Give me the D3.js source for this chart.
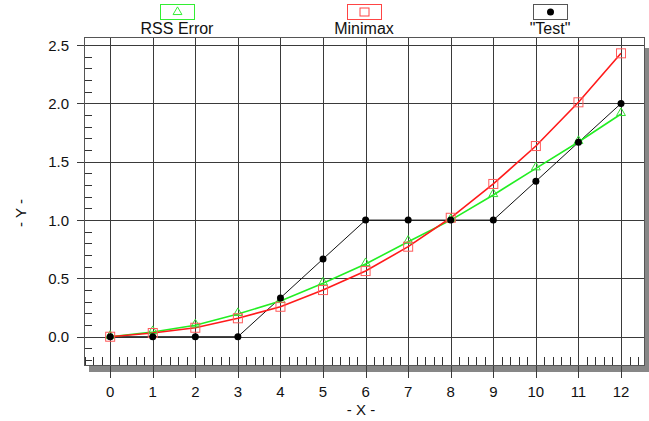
<!DOCTYPE html>
<html><head><meta charset="utf-8">
<script src="https://cdn.jsdelivr.net/npm/d3@7/dist/d3.min.js"></script>
<style>
html,body{margin:0;padding:0;background:#fff;}
svg{display:block;font-family:"Liberation Sans",Arial,sans-serif;}
</style></head>
<body><svg id="c" width="649" height="421"></svg>
<script>
const xValues = [0,1,2,3,4,5,6,7,8,9,10,11,12];
const rssError = [0,0.04,0.098,0.195,0.306,0.458,0.623,0.815,1.0,1.215,1.444,1.67,1.91];
const minimax  = [0,0.032,0.077,0.158,0.257,0.40,0.563,0.772,1.02,1.31,1.635,2.01,2.43];
const test     = [0,0,0,0,0.333,0.667,1,1,1,1,1.333,1.667,2.0];
const xTicks = [0,1,2,3,4,5,6,7,8,9,10,11,12];
const yTicks = [0,0.5,1.0,1.5,2.0,2.5];
const seriesNames = ["RSS Error","Minimax","\"Test\""];

const svg = d3.select("#c");
const L=84, R=644, T=37, B=366;
const x = d3.scaleLinear().domain([-0.615,12.54]).range([L,R]);
const y = d3.scaleLinear().domain([-0.251,2.57]).range([B,T]);
const px = v => Math.round(v)+0.5;

// shadow
svg.append("rect").attr("x",R+1).attr("y",48).attr("width",5).attr("height",B+6-48).attr("fill","#878787");
svg.append("rect").attr("x",89).attr("y",B).attr("width",R+6-89).attr("height",6).attr("fill","#878787");
// background
svg.append("rect").attr("x",L).attr("y",T).attr("width",R-L).attr("height",B-T).attr("fill","#fff");

const g = svg.append("g").attr("shape-rendering","crispEdges");
// minor ticks
const yMinor = d3.range(-2,26).map(i=>i/10).filter(v=>Math.abs(v*2-Math.round(v*2))>1e-6);
g.selectAll(".ym").data(yMinor).join("line")
 .attr("x1",L).attr("x2",L+8).attr("y1",d=>px(y(d))).attr("y2",d=>px(y(d)))
 .attr("stroke","#333").attr("stroke-width",1);
const xMinor = d3.range(-3,63).map(i=>i/5).filter(v=>Math.abs(v-Math.round(v))>1e-6 && x(v)>L && x(v)<R);
g.selectAll(".xm").data(xMinor).join("line")
 .attr("x1",d=>px(x(d))).attr("x2",d=>px(x(d))).attr("y1",B).attr("y2",B-9)
 .attr("stroke","#333").attr("stroke-width",1);
// grid + major ticks
g.selectAll(".yg").data(yTicks).join("line")
 .attr("x1",77).attr("x2",R).attr("y1",d=>px(y(d))).attr("y2",d=>px(y(d)))
 .attr("stroke","#3a3a3a").attr("stroke-width",1);
g.selectAll(".xg").data(xTicks).join("line")
 .attr("x1",d=>px(x(d))).attr("x2",d=>px(x(d))).attr("y1",T).attr("y2",378)
 .attr("stroke","#3a3a3a").attr("stroke-width",1);
// frame
g.append("rect").attr("x",L+0.5).attr("y",T+0.5).attr("width",R-L).attr("height",B-T-1)
 .attr("fill","none").attr("stroke","#555").attr("stroke-width",1);

// tick labels
svg.selectAll(".yl").data(yTicks).join("text")
 .attr("x",69).attr("y",d=>y(d)+5.5).attr("text-anchor","end")
 .attr("font-size",15).attr("fill","#111").text(d3.format(".1f"));
svg.selectAll(".xl").data(xTicks).join("text")
 .attr("x",d=>x(d)).attr("y",397).attr("text-anchor","middle")
 .attr("font-size",15).attr("fill","#111").text(d=>d);
svg.append("text").attr("x",361).attr("y",415).attr("text-anchor","middle")
 .attr("font-size",15).attr("fill","#111").text("- X -");
svg.append("text").attr("transform","translate(26,213) rotate(-90)").attr("text-anchor","middle")
 .attr("font-size",15).attr("fill","#111").text("- Y -");

// lines
const line = d3.line().x((d,i)=>x(xValues[i])).y(d=>y(d));
svg.append("path").datum(test).attr("d",line).attr("fill","none").attr("stroke","#111").attr("stroke-width",1);
svg.append("path").datum(rssError).attr("d",line).attr("fill","none").attr("stroke","#22ee22").attr("stroke-width",1.6);
svg.append("path").datum(minimax).attr("d",line).attr("fill","none").attr("stroke","#ff1a1a").attr("stroke-width",1.6);

// markers
const tri = d3.symbol().type(d3.symbolTriangle).size(34);
svg.selectAll(".tri").data(rssError).join("path")
 .attr("d",tri).attr("transform",(d,i)=>`translate(${x(xValues[i])},${y(d)-1})`)
 .attr("fill","none").attr("stroke","#33dd33").attr("stroke-width",1);
svg.selectAll(".sq").data(minimax).join("rect")
 .attr("x",(d,i)=>x(xValues[i])-4.5).attr("y",d=>y(d)-4.5).attr("width",9).attr("height",9)
 .attr("fill","none").attr("stroke","#ff5a5a").attr("stroke-width",1);
svg.selectAll(".dot").data(test).join("circle")
 .attr("cx",(d,i)=>x(xValues[i])).attr("cy",d=>y(d)).attr("r",3.5).attr("fill","#000");

// legend
const legX = [177,364,550];
const legColors = ["#33ee33","#ff4444","#555"];
const leg = svg.selectAll(".leg").data(seriesNames).join("g").attr("transform",(d,i)=>`translate(${legX[i]},0)`);
leg.append("rect").attr("x",-16.5).attr("y",4.5).attr("width",34).attr("height",15)
 .attr("fill","#fff").attr("stroke",(d,i)=>legColors[i]).attr("stroke-width",1);
leg.append("text").attr("x",0).attr("y",34).attr("text-anchor","middle").attr("font-size",16).attr("fill","#111").text(d=>d);
leg.filter((d,i)=>i===0).append("path").attr("d",tri).attr("transform","translate(0.5,12)")
 .attr("fill","none").attr("stroke","#33ee33");
leg.filter((d,i)=>i===1).append("rect").attr("x",-4).attr("y",8).attr("width",9).attr("height",8)
 .attr("fill","none").attr("stroke","#ff4444");
leg.filter((d,i)=>i===2).append("circle").attr("cx",0.5).attr("cy",12).attr("r",3.5).attr("fill","#000");
</script></body></html>
